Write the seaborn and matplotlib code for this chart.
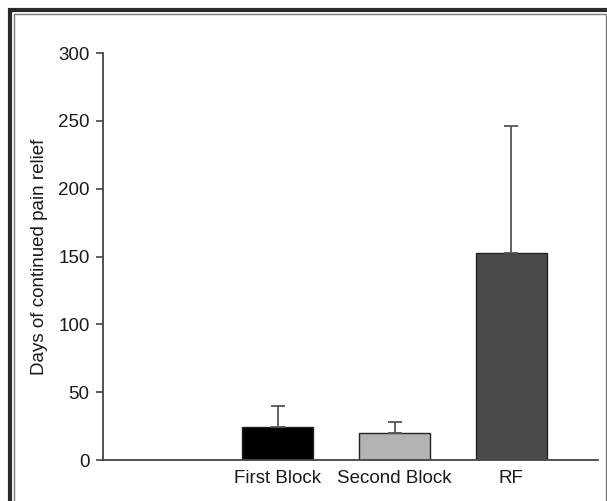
import matplotlib
matplotlib.use("Agg")
import matplotlib.pyplot as plt
import seaborn as sns
import pandas as pd
from matplotlib.patches import Rectangle

categories = ["First Block", "Second Block", "RF"]
means = [24.5, 19.7, 152.5]
errors_up = [15.3, 8.5, 94.0]
slot_order = [" ", "First Block", "Second Block", "RF"]
bar_colors = ["#000000", "#b3b3b3", "#4a4a4a"]
y_ticks = [0, 50, 100, 150, 200, 250, 300]
y_label = "Days of continued pain relief"

sns.set_theme(style="white")
plt.rcParams["font.family"] = ["Liberation Sans", "DejaVu Sans"]

df = pd.DataFrame({"group": categories, "days": means})

fig = plt.figure(figsize=(6.07, 5.01), dpi=100)
ax = fig.add_axes([0.1692, 0.0818, 0.8155, 0.8124])

palette = {c: col for c, col in zip(categories, bar_colors)}
sns.barplot(data=df, x="group", y="days", hue="group", order=slot_order,
            palette=palette, legend=False, width=0.606,
            edgecolor="#222222", linewidth=1.0, ax=ax)

pos = [slot_order.index(c) for c in categories]
ax.errorbar(pos, means, yerr=[[0] * len(means), errors_up], fmt="none",
            ecolor="#555555", elinewidth=1.3, capsize=5, capthick=1.3, zorder=1)

ax.set_xlim(-0.5, 3.74)
ax.set_ylim(0, 300)
ax.set_yticks(y_ticks)
ax.set_xlabel("")
ax.set_ylabel(y_label, fontsize=13.5, color="#1a1a1a", labelpad=7)

for s in ["top", "right"]:
    ax.spines[s].set_visible(False)
for s in ["left", "bottom"]:
    ax.spines[s].set_color("#444444")
    ax.spines[s].set_linewidth(1.3)

ax.tick_params(axis="y", direction="out", length=5, width=1.2, color="#444444",
               labelsize=13.5, labelcolor="#1a1a1a", left=True, pad=4.5)
ax.tick_params(axis="x", length=0, labelsize=13.5, labelcolor="#1a1a1a", pad=7)
ax.set_xticks([slot_order.index("Second Block")], minor=True)
ax.tick_params(axis="x", which="minor", direction="out", length=5, width=1.2,
               color="#444444", bottom=True)

# double frame around the figure
fig.patches.append(Rectangle((9.5 / 607, -0.1), 1.2, (501 - 9.5) / 501 + 0.1,
                             transform=fig.transFigure, fill=False,
                             edgecolor="#2a2a2a", linewidth=3.0))
fig.patches.append(Rectangle((13.5 / 607, -0.1), (606 - 13.5) / 607, (501 - 13.5) / 501 + 0.1,
                             transform=fig.transFigure, fill=False,
                             edgecolor="#777777", linewidth=1.0))

fig.savefig("out.png", dpi=100)
